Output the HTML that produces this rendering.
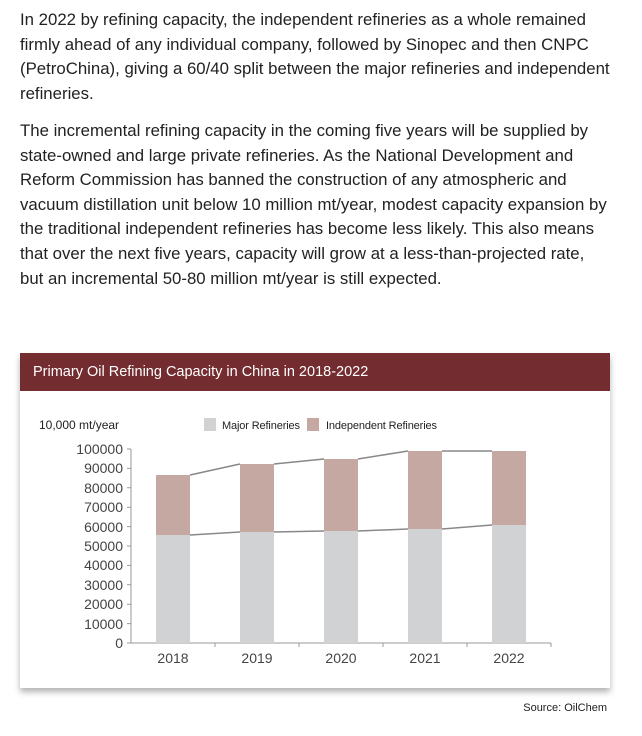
<!DOCTYPE html>
<html><head><style>
body{margin:0;background:#fff;font-family:"Liberation Sans",Arial,sans-serif;color:#222;}
.t{position:absolute;left:20px;width:592px;font-size:16.8px;line-height:24.6px;margin:0;}
.panel{position:absolute;left:20px;top:353px;width:590px;height:335px;background:#fff;box-shadow:0 4px 6px rgba(0,0,0,0.3);}
.hd{height:38px;background:#732c2f;color:#fff;font-size:14.5px;line-height:38px;padding-left:13px;}
</style></head><body>
<p class="t" style="top:8px">In 2022 by refining capacity, the independent refineries as a whole remained firmly ahead of any individual company, followed by Sinopec and then CNPC (PetroChina), giving a 60/40 split between the major refineries and independent refineries.</p>
<p class="t" style="top:119px">The incremental refining capacity in the coming five years will be supplied by state-owned and large private refineries. As the National Development and Reform Commission has banned the construction of any atmospheric and vacuum distillation unit below 10 million mt/year, modest capacity expansion by the traditional independent refineries has become less likely. This also means that over the next five years, capacity will grow at a less-than-projected rate, but an incremental 50-80 million mt/year is still expected.</p>
<div class="panel"><div class="hd">Primary Oil Refining Capacity in China in 2018-2022</div></div>
<svg style="position:absolute;left:0;top:0" width="642" height="736" font-family="Liberation Sans, Arial, sans-serif">
<text x="39" y="429" font-size="12" fill="#222">10,000 mt/year</text>
<rect x="204" y="418" width="12" height="13" fill="#d1d2d4"/><text x="222" y="429" font-size="11" fill="#222" textLength="78">Major Refineries</text>
<rect x="307" y="418" width="12" height="13" fill="#c6a8a3"/><text x="326" y="429" font-size="11" fill="#222" textLength="111">Independent Refineries</text>
<g font-size="14" fill="#444" text-anchor="end">
<text x="123" y="454">100000</text><text x="123" y="473">90000</text><text x="123" y="493">80000</text><text x="123" y="512">70000</text><text x="123" y="532">60000</text><text x="123" y="551">50000</text><text x="123" y="570">40000</text><text x="123" y="590">30000</text><text x="123" y="609">20000</text><text x="123" y="629">10000</text><text x="123" y="648">0</text>
</g>
<g stroke="#999" fill="none"><path d="M131 449V643H551M127 449H131M127 468.4H131M127 487.8H131M127 507.2H131M127 526.6H131M127 546H131M127 565.4H131M127 584.8H131M127 604.2H131M127 623.6H131M127 643H131M215 643v4M299 643v4M383 643v4M467 643v4M551 643v4"/></g>
<g fill="#d1d2d4"><rect x="156" y="535" width="34" height="108"/><rect x="240" y="532" width="34" height="111"/><rect x="324" y="531" width="34" height="112"/><rect x="408" y="529" width="34" height="114"/><rect x="492" y="525" width="34" height="118"/></g>
<g fill="#c6a8a3"><rect x="156" y="475" width="34" height="60"/><rect x="240" y="464" width="34" height="68"/><rect x="324" y="459" width="34" height="72"/><rect x="408" y="451" width="34" height="78"/><rect x="492" y="451" width="34" height="74"/></g>
<g stroke="#888" stroke-width="1.5" fill="none"><path d="M190 475L240 464M274 464L324 459M358 459L408 451M442 451L492 451"/><path d="M190 535L240 532M274 532L324 531M358 531L408 529M442 529L492 525"/></g>
<g font-size="14" fill="#444" text-anchor="middle"><text x="173" y="663">2018</text><text x="257" y="663">2019</text><text x="341" y="663">2020</text><text x="425" y="663">2021</text><text x="509" y="663">2022</text></g>
<text x="607" y="711" font-size="11" fill="#222" text-anchor="end">Source: OilChem</text>
</svg>
</body></html>
